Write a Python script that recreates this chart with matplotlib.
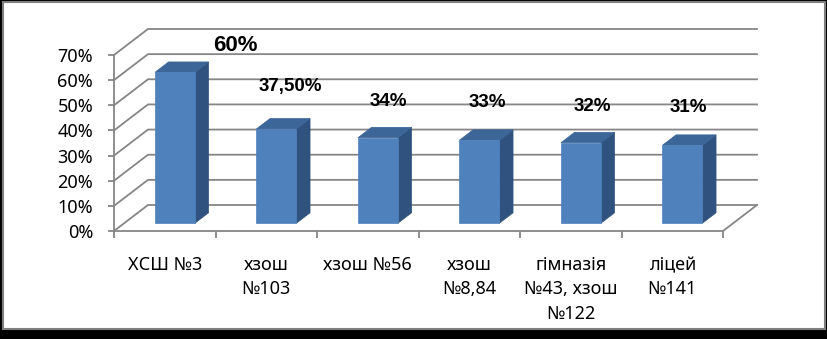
import numpy as np
import matplotlib
matplotlib.use('Agg')
import matplotlib.pyplot as plt
from matplotlib.patches import Polygon, Rectangle
from matplotlib.transforms import IdentityTransform
from matplotlib.ticker import FixedLocator, PercentFormatter

# data
categories = ['ХСШ №3', 'хзош\n№103', 'хзош №56', 'хзош\n№8,84',
              'гімназія\n№43, хзош\n№122', 'ліцей\n№141']
values = [0.60, 0.375, 0.34, 0.33, 0.32, 0.31]
value_labels = ['60%', '37,50%', '34%', '33%', '32%', '31%']
yticks = [0.0, 0.1, 0.2, 0.3, 0.4, 0.5, 0.6, 0.7]

plt.rcParams['font.family'] = ['Noto Sans', 'DejaVu Sans']

W, H = 828, 339
fig = plt.figure(figsize=(W / 100, H / 100), dpi=100, facecolor='black')

# white chart area with grey border
fig.add_artist(Rectangle((3 / W, 1 - 329 / H), 822 / W, 327 / H,
                         transform=fig.transFigure, facecolor='white',
                         edgecolor='#7f7f7f', lw=1.5, zorder=0))

# front plane of the 3d box
ax = fig.add_axes([114 / W, 1 - 231 / H, 609 / W, 176 / H])
ax.set_xlim(0, len(categories))
ax.set_ylim(0, 0.7)
ax.patch.set_visible(False)
for s in ['top', 'right']:
    ax.spines[s].set_visible(False)
grid_c = '#868686'
ax.spines['left'].set_color(grid_c)
ax.spines['bottom'].set_color(grid_c)
ax.spines['left'].set_linewidth(1.3)
ax.spines['bottom'].set_linewidth(1.3)

ax.yaxis.set_major_locator(FixedLocator(yticks))
ax.yaxis.set_major_formatter(PercentFormatter(1.0, decimals=0))
ax.tick_params(axis='y', length=4, width=1.3, color=grid_c, pad=11,
               labelsize=13, labelcolor='black')

ax.set_xticks(np.arange(len(categories) + 1))
ax.set_xticklabels([])
ax.set_xticks(np.arange(len(categories)) + 0.5, minor=True)
ax.set_xticklabels(categories, minor=True, fontsize=13, linespacing=1.45, va='top')
ax.tick_params(axis='x', which='major', length=5, width=1.3, color=grid_c)
ax.tick_params(axis='x', which='minor', length=0, pad=18)

# depth of the box in pixels
DX, DY = 34, 26


def proj(x, y, d):
    px, py = ax.transData.transform((x, y))
    return (px + DX * d, py + DY * d)


ident = IdentityTransform()

# back wall and side wall gridlines
for v in yticks:
    p0 = proj(0, v, 0)
    p1 = proj(0, v, 1)
    p2 = proj(len(categories), v, 1)
    ax.plot([p0[0], p1[0], p2[0]], [p0[1], p1[1], p2[1]], color=grid_c,
            lw=1.3, transform=ident, clip_on=False, zorder=1)
# right floor edge
q0 = proj(len(categories), 0, 0)
q1 = proj(len(categories), 0, 1)
ax.plot([q0[0], q1[0]], [q0[1], q1[1]], color=grid_c, lw=1.3,
        transform=ident, clip_on=False, zorder=1)

# bars
bw = 0.394
d0, d1 = 0.3, 0.7
front_c = '#4f81bd'
side_c = '#30527f'
top_c = '#3c6598'
label_off = [(60, 27), (14, 42), (10, 36), (8, 38), (11, 36), (6, 38)]
for i, v in enumerate(values):
    x0 = i + 0.5 - bw / 2
    x1 = i + 0.5 + bw / 2
    front = [proj(x0, 0, d0), proj(x1, 0, d0), proj(x1, v, d0), proj(x0, v, d0)]
    side = [proj(x1, 0, d0), proj(x1, 0, d1), proj(x1, v, d1), proj(x1, v, d0)]
    top = [proj(x0, v, d0), proj(x1, v, d0), proj(x1, v, d1), proj(x0, v, d1)]
    for pts, c in [(side, side_c), (top, top_c), (front, front_c)]:
        ax.add_patch(Polygon(pts, closed=True, facecolor=c, edgecolor=c,
                             lw=0.5, transform=ident, clip_on=False, zorder=3))
    cx, cy = proj(i + 0.5, v, d0)
    dx, dy = label_off[i]
    fs = 16 if i == 0 else 13.5
    ax.text(cx + dx, cy + dy, value_labels[i], transform=ident, ha='center',
            va='center', fontsize=fs, fontweight='bold', color='black',
            family=['Liberation Sans', 'DejaVu Sans'], zorder=4)

fig.savefig('out.png', dpi=100, facecolor='black')
